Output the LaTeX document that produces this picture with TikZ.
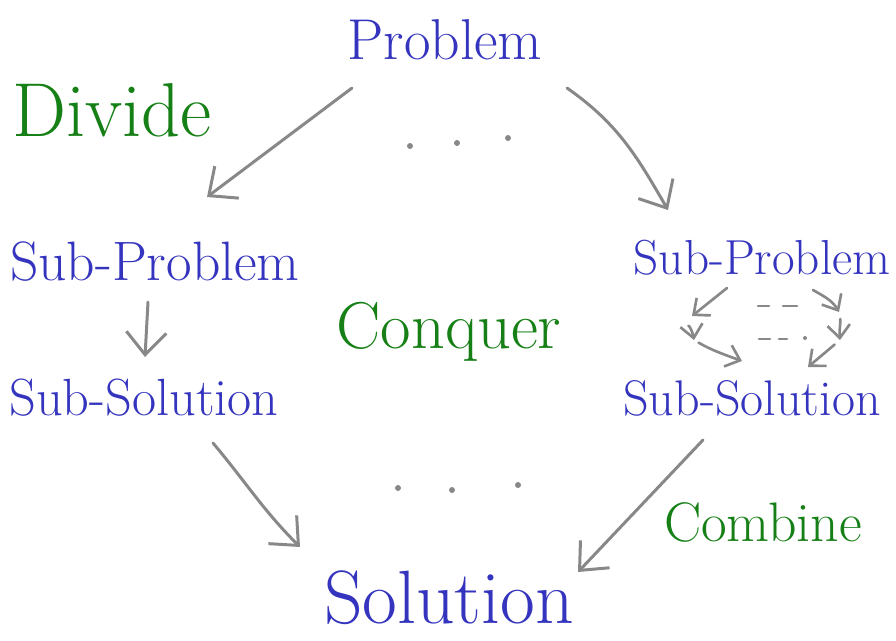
\documentclass[tikz,border=0pt]{standalone}
\usepackage{fontspec}
\usepackage{tikz}
\usetikzlibrary{arrows.meta,calc}
\definecolor{penblue}{RGB}{52,52,190}
\definecolor{pengreen}{RGB}{22,128,22}
\definecolor{pengray}{RGB}{136,136,136}

\begin{document}
\begin{tikzpicture}[x=0.02cm,y=-0.02cm,
  word/.style={text=penblue,inner sep=0pt},
  note/.style={text=pengreen,inner sep=0pt},
  arr/.style={-{Straight Barb[length=4.5mm,width=8mm]},color=pengray,line width=1.7pt,line cap=round},
  small arr/.style={arr,-{Straight Barb[length=2.6mm,width=4.5mm]},line width=1.5pt}]
\useasboundingbox (0,0) rectangle (896,640);
%%%%% Words %%%%%
\node[word,font=\fontsize{32.8}{34}\selectfont] (prob) at (445,40) {Problem};
\node[note,font=\fontsize{43.5}{44}\selectfont] (div) at (112,110) {Divide};
\node[word,font=\fontsize{31.6}{33}\selectfont] (lsub) at (155,262) {Sub-Problem};
\node[word,font=\fontsize{29.8}{31}\selectfont] (lsol) at (144,398) {Sub-Solution};
\node[note,font=\fontsize{37.7}{39}\selectfont] (conq) at (449,332) {Conquer};
\node[word,font=\fontsize{28}{30}\selectfont] (rsub) at (762,258) {Sub-Problem};
\node[word,font=\fontsize{28.5}{30}\selectfont] (rsol) at (752,398) {Sub-Solution};
\node[note,font=\fontsize{31.7}{33}\selectfont] (comb) at (763,522) {Combine};
\node[word,font=\fontsize{43}{44}\selectfont] (sol) at (449,598) {Solution};
%%%%% Arrows %%%%%
\draw[arr] ($(prob)+(-93,48)$) -- ($(lsub)+(52,-65)$);
\draw[arr] ($(prob)+(122,48)$) to[out=-35,in=120] ($(rsub)+(-94,-48)$);
\draw[arr] ($(lsub)+(-7,40)$) -- ($(lsol)+(1,-41)$);
\draw[arr] ($(lsol)+(69,45)$) to[out=-50,in=135] ($(sol)+(-149,-51)$);
\draw[arr] ($(rsol)+(-49,42)$) -- ($(sol)+(129,-26)$);
%%%%% inner steps %%%%%
\coordinate (ml1) at (692,316);
\coordinate (ml2) at (694,340);
\coordinate (mr1) at (839,312);
\coordinate (mr2) at (840,340);
\draw[small arr] ($(rsub)+(-35,30)$) -- (ml1);
\draw[small arr,shorten <=6pt] (ml1) to[out=-110,in=100] (ml2);
\draw[small arr,shorten <=3pt] (ml2) to[out=-30,in=160] ($(rsol)+(-10,-37)$);
\draw[small arr] ($(rsub)+(51,32)$) to[out=-30,in=120] (mr1);
\draw[small arr,shorten <=4pt] (mr1) to[out=-80,in=95] (mr2);
\draw[small arr,shorten <=4pt] (mr2) -- ($(rsol)+(56,-31)$);
\foreach \y/\a/\b/\c/\d in {306/758/769/783/797, 339/759/770/779/787}{
  \draw[pengray,line width=1.5pt,line cap=round] (\a,\y) -- (\b,\y) (\c,\y) -- (\d,\y);
}
\fill[pengray] (805,338) circle (2);
%%%%% dots %%%%%
\foreach \x/\y in {410/146, 457/143, 508/138, 398/488, 452/490, 518/485}{
  \fill[pengray] (\x,\y) circle (3);
}
\end{tikzpicture}
\end{document}
